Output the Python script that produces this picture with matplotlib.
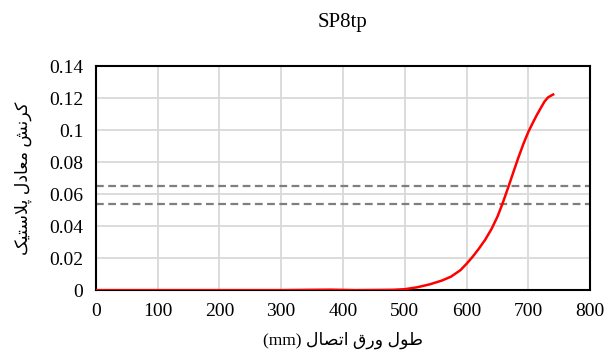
import matplotlib
matplotlib.use('Agg')
import matplotlib.pyplot as plt

# طول ورق (mm) و کرنش معادل پلاستیک
length_mm = [0, 100, 200, 300, 350, 380, 420, 480, 500, 520, 540, 560, 575, 590, 600,
             610, 620, 630, 640, 650, 658, 668, 675, 683, 692, 700, 706, 713, 720,
             726, 732, 740]
peeq = [0, 0, 0, 0, 0.0002, 0.0003, 0, 0.0002, 0.0006, 0.0018, 0.0036, 0.006, 0.0085,
        0.0125, 0.0165, 0.021, 0.026, 0.0315, 0.038, 0.046, 0.054, 0.065, 0.073, 0.082,
        0.0915, 0.099, 0.1037, 0.109, 0.1138, 0.1178, 0.1205, 0.1222]
limit_lines = [0.065, 0.054]

title = 'SP8tp'
x_label = 'طول ورق اتصال (mm)'
y_label = 'کرنش معادل پلاستیک'

# Arabic presentation forms: (isolated, final, initial, medial)
FORMS = {
    'ا': ('\uFE8D', '\uFE8E', None, None),
    'د': ('\uFEA9', '\uFEAA', None, None),
    'ر': ('\uFEAD', '\uFEAE', None, None),
    'و': ('\uFEED', '\uFEEE', None, None),
    'ک': ('\uFB8E', '\uFB8F', '\uFB90', '\uFB91'),
    'ن': ('\uFEE5', '\uFEE6', '\uFEE7', '\uFEE8'),
    'ش': ('\uFEB5', '\uFEB6', '\uFEB7', '\uFEB8'),
    'م': ('\uFEE1', '\uFEE2', '\uFEE3', '\uFEE4'),
    'ع': ('\uFEC9', '\uFECA', '\uFECB', '\uFECC'),
    'ل': ('\uFEDD', '\uFEDE', '\uFEDF', '\uFEE0'),
    'پ': ('\uFB56', '\uFB57', '\uFB58', '\uFB59'),
    'س': ('\uFEB1', '\uFEB2', '\uFEB3', '\uFEB4'),
    'ت': ('\uFE95', '\uFE96', '\uFE97', '\uFE98'),
    'ی': ('\uFBFC', '\uFBFD', '\uFBFE', '\uFBFF'),
    'ط': ('\uFEC1', '\uFEC2', '\uFEC3', '\uFEC4'),
    'ق': ('\uFED5', '\uFED6', '\uFED7', '\uFED8'),
    'ص': ('\uFEB9', '\uFEBA', '\uFEBB', '\uFEBC'),
}


def shape_word(word):
    # join letters, handle lam-alef, return in visual (left-to-right) order
    chars = list(word)
    out = []
    i = 0
    while i < len(chars):
        c = chars[i]
        prev = chars[i - 1] if i > 0 else None
        joins_prev = prev is not None and FORMS[prev][2] is not None
        if c == 'ل' and i + 1 < len(chars) and chars[i + 1] == 'ا':
            out.append('\uFEFC' if joins_prev else '\uFEFB')
            i += 2
            continue
        nxt = chars[i + 1] if i + 1 < len(chars) else None
        joins_next = nxt is not None and FORMS[c][2] is not None
        iso, fin, ini, med = FORMS[c]
        if joins_prev and joins_next:
            out.append(med)
        elif joins_prev:
            out.append(fin)
        elif joins_next:
            out.append(ini)
        else:
            out.append(iso)
        i += 1
    return ''.join(reversed(out))


def rtl(text):
    words = text.split(' ')
    shaped = [w if not any(ch in FORMS for ch in w) else shape_word(w) for w in words]
    return ' '.join(reversed(shaped))


fonts = ['Liberation Serif', 'DejaVu Sans']
plt.rcParams['font.family'] = fonts

fig = plt.figure(figsize=(6.06, 3.53), dpi=100)
ax = fig.add_axes([0.158, 0.178, 0.816, 0.635])

for v in limit_lines:
    ax.axhline(v, color='#7f7f7f', lw=1.6, ls=(0, (3.5, 2)), zorder=2)
ax.plot(length_mm, peeq, color='#ff0000', lw=1.8, zorder=3)

ax.set_xlim(0, 800)
ax.set_ylim(0, 0.14)
ax.set_xticks(range(0, 801, 100))
ax.set_yticks([0, 0.02, 0.04, 0.06, 0.08, 0.1, 0.12, 0.14])
ax.set_yticklabels(['0', '0.02', '0.04', '0.06', '0.08', '0.1', '0.12', '0.14'])
ax.grid(True, color='#d9d9d9', lw=1.3, zorder=0)
ax.set_axisbelow(True)
ax.tick_params(length=0, labelsize=14, pad=9)
for s in ax.spines.values():
    s.set_color('black')
    s.set_linewidth(1.5)

ax.set_title(title, fontsize=15, pad=28)
ax.set_xlabel(rtl(x_label), fontsize=12.5, labelpad=9)
ax.set_ylabel(rtl(y_label), fontsize=12.5, labelpad=12)

fig.savefig('out.png', dpi=100)
